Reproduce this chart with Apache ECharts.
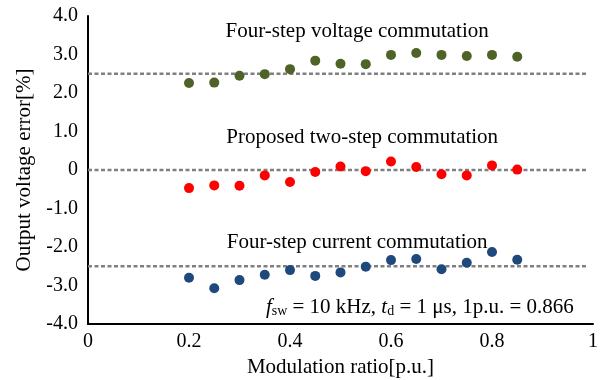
<!DOCTYPE html>
<html>
<head>
	<meta charset="utf-8">
	<title>output voltage error</title>
	<script src="https://cdn.jsdelivr.net/npm/echarts@6/dist/echarts.min.js"></script>
	<style>
		html, body { margin: 0; padding: 0; background: #fff; }
		#chart { width: 604px; height: 380px; }
	</style>
</head>
<body>
	<div id="chart"></div>
	<script>
		var ratio = [0.2, 0.25, 0.3, 0.35, 0.4, 0.45, 0.5, 0.55, 0.6, 0.65, 0.7, 0.75, 0.8, 0.85];
		var voltage4 = [2.26, 2.27, 2.45, 2.49, 2.62, 2.84, 2.76, 2.75, 2.99, 3.04, 2.99, 2.96, 2.99, 2.94];
		var proposed2 = [-0.47, -0.40, -0.41, -0.14, -0.31, -0.05, 0.09, -0.03, 0.22, 0.08, -0.11, -0.14, 0.12, 0.01];
		var current4 = [-2.80, -3.07, -2.86, -2.72, -2.60, -2.75, -2.66, -2.51, -2.34, -2.31, -2.58, -2.41, -2.13, -2.33];
		var refLevels = [2.5, 0, -2.5];
		var xTicks = [0, 0.2, 0.4, 0.6, 0.8, 1];
		var yTicks = [-4, -3, -2, -1, 0, 1, 2, 3, 4];

		var serif = '"Liberation Serif", "Times New Roman", serif';
		var ink = '#000';

		function pairs(ys) {
			var out = [];
			for (var i = 0; i < ratio.length; i++) out.push([ratio[i], ys[i]]);
			return out;
		}

		function textMark(x, y, text, align) {
			return {
				type: 'scatter',
				symbolSize: 0,
				silent: true,
				z: 5,
				data: [[x, y]],
				itemStyle: { opacity: 1 },
				label: {
					show: true,
					position: 'inside',
					align: align || 'center',
					verticalAlign: 'middle',
					formatter: text,
					color: ink,
					opacity: 1,
					fontFamily: serif,
					fontSize: 21,
					rich: {
						it: { fontStyle: 'italic', fontFamily: serif, fontSize: 21, color: ink },
						sub: { fontFamily: serif, fontSize: 14, color: ink, padding: [9, 0, 0, 0] }
					}
				}
			};
		}

		var series = [];
		refLevels.forEach(function (lv) {
			series.push({
				type: 'line',
				data: [[0, lv], [0.99, lv]],
				symbol: 'none',
				silent: true,
				lineStyle: { color: '#808080', width: 2.5, type: [4, 2.5] },
				z: 1
			});
		});
		series.push({ type: 'scatter', data: pairs(voltage4), symbolSize: 10, itemStyle: { color: '#4f6228', opacity: 1 }, z: 3 });
		series.push({ type: 'scatter', data: pairs(proposed2), symbolSize: 10, itemStyle: { color: '#ff0000', opacity: 1 }, z: 3 });
		series.push({ type: 'scatter', data: pairs(current4), symbolSize: 10, itemStyle: { color: '#1f497d', opacity: 1 }, z: 3 });
		series.push(textMark(0.533, 3.6, 'Four-step voltage commutation'));
		series.push(textMark(0.543, 0.84, 'Proposed two-step commutation'));
		series.push(textMark(0.533, -1.88, 'Four-step current commutation'));
		series.push(textMark(0.962, -3.56, '{it|f}{sub|sw} = 10 kHz, {it|t}{sub|d} = 1 μs, 1p.u. = 0.866', 'right'));

		var chart = echarts.init(document.getElementById('chart'));
		chart.setOption({
			animation: false,
			backgroundColor: '#fff',
			grid: { left: 88, right: 11, top: 16, bottom: 56, containLabel: false, outerBoundsMode: 'none' },
			xAxis: {
				type: 'value',
				min: xTicks[0],
				max: xTicks[xTicks.length - 1],
				interval: 0.2,
				name: 'Modulation ratio[p.u.]',
				nameLocation: 'middle',
				nameGap: 33,
				nameTextStyle: { fontFamily: serif, fontSize: 21, color: ink },
				axisLine: { onZero: false, lineStyle: { color: '#000', width: 2 } },
				axisTick: { show: false },
				splitLine: { show: false },
				axisLabel: {
					fontFamily: serif, fontSize: 20, color: ink, margin: 8,
					formatter: function (v) { return String(Math.round(v * 10) / 10); }
				}
			},
			yAxis: {
				type: 'value',
				min: yTicks[0],
				max: yTicks[yTicks.length - 1],
				interval: 1,
				name: 'Output voltage error[%]',
				nameLocation: 'middle',
				nameRotate: 90,
				nameGap: 53,
				nameTextStyle: { fontFamily: serif, fontSize: 21, color: ink },
				axisLine: { show: true, onZero: false, lineStyle: { color: '#000', width: 2 } },
				axisTick: { show: false },
				splitLine: { show: false },
				axisLabel: {
					fontFamily: serif, fontSize: 20, color: ink, margin: 10,
					formatter: function (v) { return v === 0 ? '0' : v.toFixed(1); }
				}
			},
			series: series
		});
	</script>
</body>
</html>
